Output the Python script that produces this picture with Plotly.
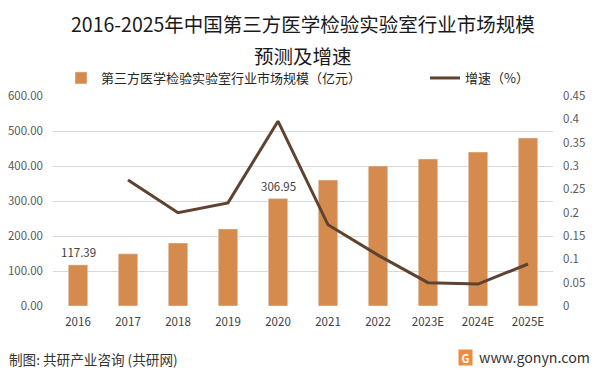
import plotly.graph_objects as go

years = ["2016", "2017", "2018", "2019", "2020", "2021", "2022", "2023E", "2024E", "2025E"]
market_size = [117.39, 149, 180, 220, 306.95, 360, 400, 420, 440, 480]
growth = [None, 0.27, 0.20, 0.221, 0.396, 0.174, 0.109, 0.05, 0.047, 0.09]
left_ticks = [0, 100, 200, 300, 400, 500, 600]
right_ticks = [0, 0.05, 0.1, 0.15, 0.2, 0.25, 0.3, 0.35, 0.4, 0.45]
labeled_years = ["2016", "2020"]

BAR = "#D48B4D"
LINE = "#5E4330"
FONT = "Noto Sans CJK SC"

fig = go.Figure()
fig.add_trace(go.Bar(
    x=years, y=market_size, name="第三方医学检验实验室行业市场规模（亿元）",
    marker_color=BAR, legend="legend", hoverinfo="skip",
))
fig.add_trace(go.Scatter(
    x=years, y=growth, name="增速（%）", mode="lines",
    line=dict(color=LINE, width=3), yaxis="y2", legend="legend2", hoverinfo="skip",
))

for yr in labeled_years:
    i = years.index(yr)
    v = market_size[i]
    fig.add_annotation(x=i, y=v, text=f"{v:.2f}", showarrow=False, yanchor="bottom", yshift=3,
                       font=dict(size=11.5, color="#404040", family=FONT))

fig.update_layout(
    width=598, height=371,
    margin=dict(l=53, r=45, t=96, b=65, autoexpand=False),
    paper_bgcolor="white", plot_bgcolor="white",
    font=dict(family=FONT, color="#595959", size=11),
    bargap=0.61,
    showlegend=True,
    legend=dict(orientation="h", x=0.016, y=1.0857, yanchor="middle", xanchor="left",
                font=dict(size=13, color="#262626"), bgcolor="rgba(0,0,0,0)"),
    legend2=dict(orientation="h", x=0.744, y=1.0857, yanchor="middle", xanchor="left",
                 font=dict(size=13, color="#262626"), bgcolor="rgba(0,0,0,0)"),
    xaxis=dict(type="category", showgrid=False, showline=False, ticks="", ticklabelstandoff=7,
               automargin=False, tickfont=dict(size=11.5, color="#404040")),
    yaxis=dict(range=[0, 600], tickvals=left_ticks, ticktext=[f"{v:.2f}" for v in left_ticks],
               showgrid=True, gridcolor="#D9D9D9", gridwidth=1, zeroline=False, ticklabelstandoff=9,
               automargin=False, tickfont=dict(size=11.5, color="#595959")),
    yaxis2=dict(range=[0, 0.45], tickvals=right_ticks, ticktext=[f"{v:g}" for v in right_ticks],
                overlaying="y", side="right", showgrid=False, zeroline=False, ticklabelstandoff=9,
                automargin=False, tickfont=dict(size=11.5, color="#595959")),
)

fig.add_annotation(text="2016-2025年中国第三方医学检验实验室行业市场规模",
                   xref="paper", yref="paper", x=0.5, y=1.0, yshift=73, xanchor="center", yanchor="middle",
                   showarrow=False, font=dict(size=19.5, color="#1a1a1a", family=FONT))
fig.add_annotation(text="预测及增速",
                   xref="paper", yref="paper", x=0.5, y=1.0, yshift=41, xanchor="center", yanchor="middle",
                   showarrow=False, font=dict(size=19.5, color="#1a1a1a", family=FONT), height=24)
fig.add_annotation(text="制图: 共研产业咨询 (共研网)", xref="paper", yref="paper",
                   x=0, xshift=-46, y=0, yshift=-53, xanchor="left", yanchor="middle",
                   showarrow=False, font=dict(size=13.6, color="#333333", family=FONT))
fig.add_annotation(text="www.gonyn.com", xref="paper", yref="paper",
                   x=1, xshift=39, y=0, yshift=-51, xanchor="right", yanchor="middle",
                   showarrow=False, font=dict(size=14.2, color="#333333", family=FONT))
fig.add_annotation(text="<b>G</b>", xref="paper", yref="paper", x=1, xshift=-88, y=0, yshift=-51,
                   xanchor="center", yanchor="middle", showarrow=False, bgcolor="#F08A3C",
                   font=dict(size=11, color="white", family=FONT), width=13, height=15, borderpad=0)

fig.write_html("out.html", config={"displayModeBar": False},
               post_script="document.body.style.margin='0';")
